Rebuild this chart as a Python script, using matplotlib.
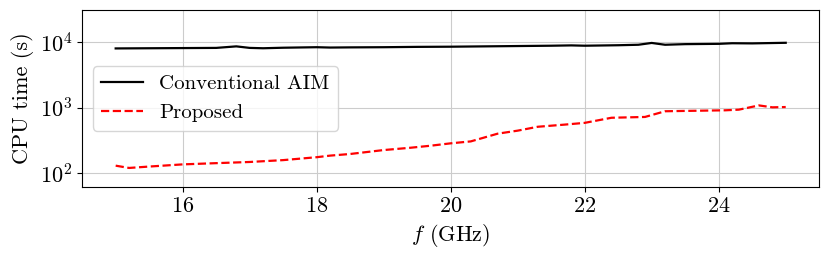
import numpy as np
import matplotlib
matplotlib.use("Agg")
import matplotlib.pyplot as plt
from matplotlib.ticker import NullLocator

# ─── Data ────────────────────────────────────────────────────────────
freq_conv = [15.0, 15.5, 16.0, 16.5, 16.8, 17.0, 17.2, 17.5, 18.0, 18.2,
             18.5, 19.0, 19.5, 20.0, 20.5, 21.0, 21.5, 21.8, 22.0, 22.5,
             22.8, 23.0, 23.2, 23.5, 24.0, 24.2, 24.5, 25.0]
cpu_conv  = [8000, 8050, 8100, 8150, 8600, 8150, 8050, 8200, 8350, 8250,
             8300, 8350, 8450, 8500, 8600, 8700, 8800, 8900, 8800, 8950,
             9100, 9700, 9100, 9300, 9400, 9600, 9550, 9750]

freq_prop = [15.0, 15.2, 15.5, 16.0, 16.5, 17.0, 17.5, 18.0, 18.2, 18.5,
             19.0, 19.4, 19.7, 20.0, 20.3, 20.7, 21.0, 21.3, 21.7, 22.0,
             22.4, 22.9, 23.2, 23.5, 24.1, 24.3, 24.6, 24.8, 25.0]
cpu_prop  = [130, 120, 126, 136, 142, 148, 158, 175, 185, 196,
             225, 244, 262, 285, 305, 400, 445, 510, 550, 585,
             700, 720, 880, 890, 910, 930, 1080, 1010, 1020]

plt.rcParams["font.family"] = "serif"
plt.rcParams["font.serif"] = ["cmr10", "DejaVu Serif"]
plt.rcParams["mathtext.fontset"] = "cm"
plt.rcParams["axes.formatter.use_mathtext"] = True

fig, ax = plt.subplots(figsize=(8.3, 2.6), dpi=100)
ax.plot(freq_conv, cpu_conv, color="black", lw=1.6, label="Conventional AIM")
ax.plot(freq_prop, cpu_prop, color="red", lw=1.6, ls="--", label="Proposed")

ax.set_yscale("log")
ax.set_ylim(61, 3.1e4)
ax.set_xticks([16, 18, 20, 22, 24])
ax.yaxis.set_minor_locator(NullLocator())
ax.tick_params(labelsize=16)
ax.grid(True, color="#cccccc", lw=0.8)
ax.set_xlabel(r"$f$ (GHz)", fontsize=16)
ax.set_ylabel("CPU time (s)", fontsize=16)
ax.legend(loc="center left", fontsize=15, framealpha=0.8)

fig.subplots_adjust(left=0.099, right=0.987, top=0.962, bottom=0.28)
fig.savefig("out.png", dpi=100)
